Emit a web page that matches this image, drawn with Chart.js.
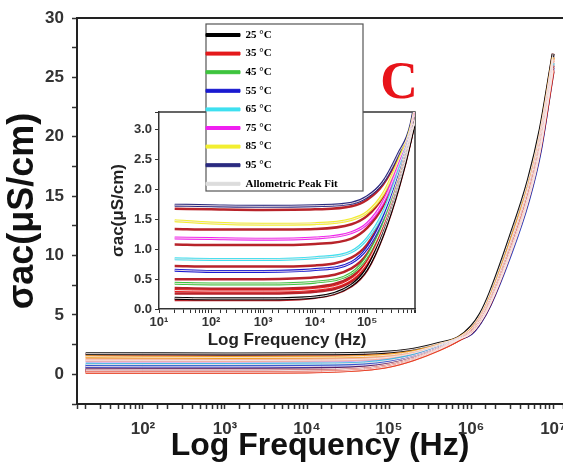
<!DOCTYPE html>
<html>
<head>
<meta charset="utf-8">
<script src="https://cdn.jsdelivr.net/npm/chart.js@4.4.1/dist/chart.umd.min.js"></script>
<style>
  html, body { margin: 0; padding: 0; background: #fff; }
  #wrap { position: relative; width: 563px; height: 466px; overflow: hidden; background: #fff; }
  #mainChart { position: absolute; left: 0; top: 0; }
  #insetChart { position: absolute; left: 105px; top: 20px; }
</style>
</head>
<body>
<div id="wrap">
  <canvas id="mainChart" width="563" height="466"></canvas>
  <canvas id="insetChart" width="320" height="332"></canvas>
</div>
<script>
// frequency points (Hz) shared by every curve
const freq = [20, 100, 1e3, 1e4, 5e4, 1e5, 2e5, 4e5, 7e5, 1e6, 1.3e6, 1.7e6, 3e6, 5e6, 7e6, 1e7];

const temps = ['25 °C', '35 °C', '45 °C', '55 °C', '65 °C', '75 °C', '85 °C', '95 °C'];

// sigma_ac (uS/cm), one array per temperature
const sigma25 = [0.18, 0.17, 0.17, 0.20, 0.40, 0.68, 1.25, 2.05, 2.88, 3.55, 4.55, 6.0, 10.3, 15.0, 19.2, 25.6];
const sigma35 = [0.31, 0.30, 0.30, 0.33, 0.50, 0.78, 1.32, 2.10, 2.90, 3.60, 4.60, 6.1, 10.5, 15.2, 19.5, 26.0];
const sigma45 = [0.43, 0.42, 0.42, 0.45, 0.60, 0.88, 1.40, 2.15, 2.92, 3.45, 4.40, 5.85, 10.2, 14.8, 19.0, 25.5];
const sigma55 = [0.65, 0.63, 0.63, 0.66, 0.78, 1.02, 1.50, 2.22, 2.95, 3.40, 4.35, 5.8, 10.0, 14.6, 18.8, 25.8];
const sigma65 = [0.84, 0.83, 0.83, 0.86, 0.96, 1.18, 1.60, 2.30, 2.97, 3.45, 4.40, 5.9, 10.1, 14.7, 19.0, 26.2];
const sigma75 = [1.19, 1.18, 1.17, 1.19, 1.28, 1.43, 1.78, 2.40, 3.00, 3.70, 4.75, 6.3, 10.8, 15.6, 19.9, 26.5];
const sigma85 = [1.48, 1.44, 1.42, 1.43, 1.50, 1.62, 1.92, 2.48, 3.05, 3.80, 4.85, 6.5, 11.1, 15.9, 20.2, 26.7];
const sigma95 = [1.74, 1.73, 1.72, 1.73, 1.77, 1.88, 2.12, 2.60, 3.10, 4.00, 5.10, 6.85, 11.6, 16.4, 20.7, 27.0];

// the unlabelled red curves lying between the coloured ones
const redA = [0.15, 0.15, 0.15, 0.19, 0.38, 0.65, 1.22, 2.02, 2.86, 3.60, 4.60, 6.15, 10.6, 15.3, 19.6, 26.2];
const redB = [0.26, 0.26, 0.26, 0.29, 0.46, 0.74, 1.30, 2.08, 2.88, 3.65, 4.65, 6.25, 10.8, 15.5, 19.8, 26.4];
const redC = [0.35, 0.34, 0.34, 0.37, 0.54, 0.80, 1.35, 2.12, 2.90, 3.70, 4.70, 6.35, 10.9, 15.7, 20.0, 26.6];
const redD = [0.50, 0.50, 0.50, 0.53, 0.68, 0.92, 1.42, 2.18, 2.93, 3.75, 4.75, 6.4, 11.0, 15.8, 20.1, 26.7];
const redE = [0.72, 0.71, 0.71, 0.73, 0.86, 1.08, 1.55, 2.26, 2.96, 3.80, 4.80, 6.45, 11.1, 15.9, 20.3, 26.8];
const redF = [1.08, 1.07, 1.07, 1.09, 1.18, 1.36, 1.72, 2.36, 3.00, 3.85, 4.90, 6.55, 11.2, 16.0, 20.4, 26.9];
const redG = [1.34, 1.33, 1.33, 1.34, 1.42, 1.56, 1.88, 2.45, 3.04, 3.90, 4.95, 6.65, 11.3, 16.1, 20.5, 26.9];
const redH = [1.68, 1.67, 1.66, 1.67, 1.72, 1.83, 2.08, 2.56, 3.08, 3.95, 5.00, 6.75, 11.5, 16.3, 20.6, 27.0];

const mainXTickValues = [1e2, 1e3, 1e4, 1e5, 1e6, 1e7];
const mainXTickLabels = ['10²', '10³', '10⁴', '10⁵', '10⁶', '10⁷'];
const insetXTickValues = [1e1, 1e2, 1e3, 1e4, 1e5];
const insetXTickLabels = ['10¹', '10²', '10³', '10⁴', '10⁵'];

const sigmaSets = [sigma25, sigma35, sigma45, sigma55, sigma65, sigma75, sigma85, sigma95];
const redSets = [redA, redB, redC, redD, redE, redF, redG, redH];

// colours
const legendColors = ['#000000', '#e41a1c', '#3ec43e', '#1a1ad0', '#3fe0f0', '#f020f0', '#f2ee30', '#2a2a80'];
const insetRed = '#b8232a';
const mainColors = ['#e8402a', '#a01a2a', '#5a1a5a', '#3a50d0', '#40b8e0', '#f4b0a0', '#f0a020', '#111111'];
const mainRedColors = ['#f08a60', '#c02020', '#801a30', '#6a2a7a', '#8a6ad8', '#c8a8f0', '#f4a582', '#d8303a'];
const fitColor = 'rgba(245, 232, 232, 0.95)';
const fitSwatch = '#dcdcdc';

const sans = '"Liberation Sans", Arial, sans-serif';
const serif = '"Liberation Serif", "Times New Roman", serif';

function pts(vals) {
  return freq.map((f, i) => ({ x: f, y: vals[i] }));
}

function tickText(v, values, labels) {
  for (let i = 0; i < values.length; i++) {
    if (Math.abs(Math.log10(v) - Math.log10(values[i])) < 1e-6) return labels[i];
  }
  return '';
}

function buildDatasets(colors, redColors, w, wRed) {
  const out = [];
  sigmaSets.forEach((s, i) => out.push({
    label: temps[i], data: pts(s), borderColor: colors[i], backgroundColor: colors[i],
    borderWidth: w, order: 1
  }));
  redSets.forEach((s, i) => out.push({
    label: 'red ' + i, data: pts(s), borderColor: redColors[i], backgroundColor: redColors[i],
    borderWidth: wRed, order: 2
  }));
  // allometric peak fits sit on top of the coloured data
  sigmaSets.forEach((s) => out.push({
    label: 'Allometric Peak Fit', data: pts(s), borderColor: fitColor, backgroundColor: fitColor,
    borderWidth: 1, order: 0
  }));
  return out;
}

const lineDefaults = {
  point: { radius: 0 },
  line: { cubicInterpolationMode: 'monotone', fill: false }
};

// keep the plot box where the picture has it, whatever the edge labels need
function noEdgePadding(s) {
  s.paddingLeft = 0; s.paddingRight = 0; s.paddingTop = 0; s.paddingBottom = 0;
}

// main panel
const mainDecor = {
  id: 'mainDecor',
  afterDraw(chart) {
    const { ctx, chartArea } = chart;
    ctx.save();
    ctx.strokeStyle = '#222';
    ctx.lineWidth = 2;
    ctx.beginPath();
    ctx.moveTo(chartArea.left, chartArea.top);
    ctx.lineTo(chartArea.right, chartArea.top);
    ctx.stroke();
    ctx.font = 'bold 52px ' + serif;
    ctx.fillStyle = '#e8141a';
    ctx.textAlign = 'center';
    ctx.textBaseline = 'alphabetic';
    ctx.fillText('C', 399, 98);
    ctx.restore();
  }
};

new Chart(document.getElementById('mainChart'), {
  type: 'line',
  data: { datasets: buildDatasets(mainColors, mainRedColors, 3, 2.5) },
  options: {
    responsive: false,
    animation: false,
    devicePixelRatio: 1,
    layout: { padding: { top: 18, right: 0, left: 0, bottom: 0 } },
    elements: lineDefaults,
    scales: {
      x: {
        type: 'logarithmic',
        min: 15.7,
        max: 1.32e7,
        afterFit: (s) => { s.height = 62; noEdgePadding(s); },
        border: { display: true, color: '#222', width: 2 },
        grid: { drawOnChartArea: false, drawTicks: true, tickLength: 5, tickColor: '#333', tickWidth: 1.5 },
        ticks: {
          autoSkip: false, maxRotation: 0, padding: 10, color: '#333',
          font: { family: sans, size: 17, weight: 'bold' },
          callback: (v) => tickText(v, mainXTickValues, mainXTickLabels)
        },
        title: {
          display: true, text: 'Log Frequency (Hz)', color: '#111',
          font: { family: sans, size: 32, weight: 'bold', lineHeight: 1 },
          padding: { top: 0, bottom: 4 }
        }
      },
      y: {
        min: -2.5,
        max: 30,
        afterFit: (s) => { s.width = 77; noEdgePadding(s); },
        border: { display: true, color: '#222', width: 2 },
        grid: { drawOnChartArea: false, drawTicks: true, tickLength: 5, tickColor: '#333', tickWidth: 1.5 },
        ticks: {
          stepSize: 2.5, padding: 8, color: '#333',
          font: { family: sans, size: 17, weight: 'bold' },
          callback: (v) => (v % 5 === 0 ? String(v) : '')
        },
        title: {
          display: true, text: 'σac(μS/cm)', color: '#111',
          font: { family: sans, size: 36, weight: 'bold', lineHeight: 1 },
          padding: { top: 5, bottom: 0 }
        }
      }
    },
    plugins: { legend: { display: false }, tooltip: { enabled: false } }
  },
  plugins: [mainDecor]
});

// inset panel with the legend
const legendBox = { left: 101, top: 4, width: 157, height: 167 };

const legendItems = temps.map((t, i) => ({
  text: t, fillStyle: legendColors[i], strokeStyle: legendColors[i], lineWidth: 1, hidden: false, datasetIndex: i
}));
legendItems.push({
  text: 'Allometric Peak Fit', fillStyle: fitSwatch, strokeStyle: fitSwatch, lineWidth: 1, hidden: false, datasetIndex: 16
});

const insetDecor = {
  id: 'insetDecor',
  afterLayout(chart) {
    const lg = chart.legend;
    if (!lg) return;
    lg.left = legendBox.left - 7.6;
    lg.top = legendBox.top - 2.1;
    lg.width = legendBox.width + 7.6;
    lg.height = 200;
    lg.right = lg.left + lg.width;
    lg.bottom = lg.top + lg.height;
  },
  beforeDraw(chart) {
    const { ctx, chartArea } = chart;
    ctx.save();
    ctx.strokeStyle = '#333';
    ctx.lineWidth = 1.5;
    ctx.beginPath();
    ctx.moveTo(chartArea.left, chartArea.top);
    ctx.lineTo(chartArea.right, chartArea.top);
    ctx.lineTo(chartArea.right, chartArea.bottom);
    ctx.stroke();
    ctx.fillStyle = '#fff';
    ctx.fillRect(legendBox.left, legendBox.top, legendBox.width, legendBox.height);
    ctx.strokeStyle = '#555';
    ctx.lineWidth = 1.2;
    ctx.strokeRect(legendBox.left, legendBox.top, legendBox.width, legendBox.height);
    ctx.restore();
  }
};

new Chart(document.getElementById('insetChart'), {
  type: 'line',
  data: { datasets: buildDatasets(legendColors, legendColors.map(() => insetRed), 3, 2.5) },
  options: {
    responsive: false,
    animation: false,
    devicePixelRatio: 1,
    layout: { padding: { top: 92, right: 10, left: 0, bottom: 0 } },
    elements: lineDefaults,
    scales: {
      x: {
        type: 'logarithmic',
        min: 10,
        max: 8.3e5,
        afterFit: (s) => { s.height = 43; noEdgePadding(s); },
        border: { display: true, color: '#333', width: 1.5 },
        grid: { drawOnChartArea: false, drawTicks: true, tickLength: 4, tickColor: '#333' },
        ticks: {
          autoSkip: false, maxRotation: 0, padding: 2, color: '#333',
          font: { family: sans, size: 13, weight: 'bold' },
          callback: (v) => tickText(v, insetXTickValues, insetXTickLabels)
        },
        title: {
          display: true, text: 'Log Frequency (Hz)', color: '#222',
          font: { family: sans, size: 17, weight: 'bold', lineHeight: 1 },
          padding: { top: 0, bottom: 3.5 }
        }
      },
      y: {
        min: 0,
        max: 3.3,
        afterFit: (s) => { s.width = 54; noEdgePadding(s); },
        border: { display: true, color: '#333', width: 1.5 },
        grid: { drawOnChartArea: false, drawTicks: true, tickLength: 4, tickColor: '#333' },
        ticks: {
          stepSize: 0.5, padding: 3, color: '#333',
          font: { family: sans, size: 13, weight: 'bold' },
          callback: (v) => (Math.abs(v * 2 - Math.round(v * 2)) < 1e-6 ? v.toFixed(1) : '')
        },
        title: {
          display: true, text: 'σac(μS/cm)', color: '#222',
          font: { family: sans, size: 17, weight: 'bold', lineHeight: 1 },
          padding: { top: 4.5, bottom: 0 }
        }
      }
    },
    plugins: {
      tooltip: { enabled: false },
      legend: {
        display: true,
        position: 'chartArea',
        align: 'start',
        labels: {
          boxWidth: 34, boxHeight: 3, padding: 7.6, color: '#222',
          font: { family: serif, size: 11, weight: 'bold' },
          generateLabels: () => legendItems
        }
      }
    }
  },
  plugins: [insetDecor]
});
</script>
</body>
</html>
